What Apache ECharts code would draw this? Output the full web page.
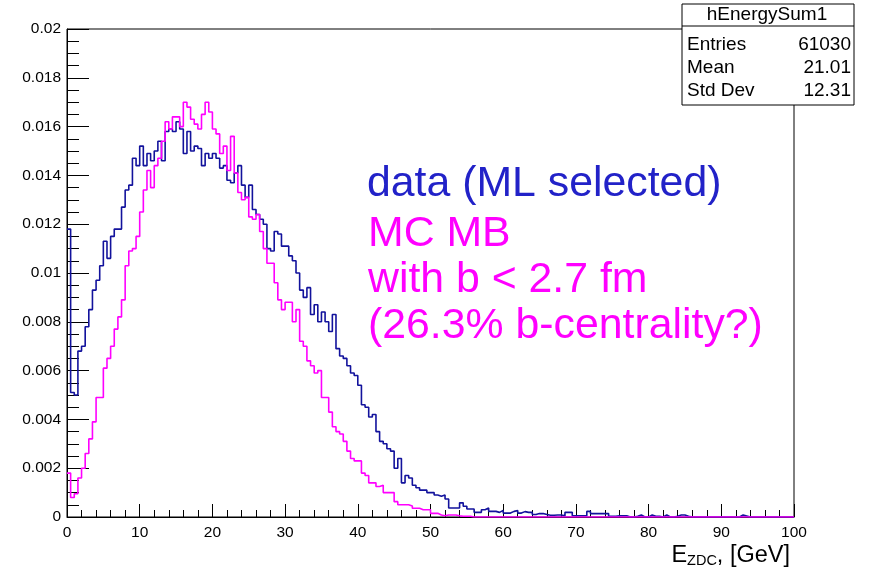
<!DOCTYPE html>
<html lang="en">
<head>
    <meta charset="UTF-8">
    <title>hEnergySum1</title>
    <script src="https://cdn.jsdelivr.net/npm/echarts@6.0.0/dist/echarts.min.js"></script>
    <style>
        html, body { margin: 0; padding: 0; background: #fff; }
        #main { width: 869px; height: 571px; }
    </style>
</head>
<body>
    <div id="main"></div>

    <script type="text/javascript">
        // histogram: 200 bins of 0.5 GeV from 0 to 100
        const binWidth = 0.5;

        // data (ML selected), normalised bin contents
        const dataSelected = [
            0.0118, 0.0051, 0.0050, 0.0068, 0.0070, 0.0078, 0.0085, 0.0093, 0.0097, 0.0103,
            0.0113, 0.0106, 0.0115, 0.0118, 0.0118, 0.0127, 0.0134, 0.0136, 0.0147, 0.0144,
            0.0152, 0.0144, 0.0149, 0.0146, 0.0150, 0.0154, 0.0146, 0.0158, 0.0159, 0.0158,
            0.0162, 0.0159, 0.0149, 0.0158, 0.0150, 0.0152, 0.0151, 0.0144, 0.0149, 0.0147,
            0.0149, 0.0147, 0.0143, 0.0144, 0.0138, 0.0137, 0.0141, 0.0144, 0.0136, 0.0131,
            0.0136, 0.0126, 0.0124, 0.0122, 0.0120, 0.0110, 0.0109, 0.0117, 0.0116, 0.0111,
            0.0111, 0.0107, 0.0105, 0.0100, 0.0093, 0.0090, 0.0094, 0.0083, 0.0087, 0.0080,
            0.0084, 0.0080, 0.0076, 0.0083, 0.0069, 0.0066, 0.0065, 0.0062, 0.0059, 0.0058,
            0.0054, 0.0046, 0.0045, 0.0041, 0.0042, 0.0035, 0.0031, 0.0030, 0.0028, 0.0027,
            0.0020, 0.0024, 0.0014, 0.0017, 0.0016, 0.0013, 0.0012, 0.0011, 0.0011, 0.0010,
            0.0010, 0.0009, 0.00085, 0.0009, 0.00074, 0.00037, 0.00037, 0.00037, 0.00058, 0.00044,
            0.00033, 0.00033, 0.00019, 0.00019, 0.0003, 0.00037, 0.00023, 0.00023, 0.00019, 0.00027,
            0.00016, 0.00016, 0.00023, 0.00027, 0.00016, 0.00022, 0.00019, 0.00019, 0.0001, 0.00014,
            0.00014, 0.0001, 0.00007, 0.00007, 0.00008, 0.00008, 0.00005, 0.00019, 0.00019, 0.00005,
            0.00005, 0.00005, 0.00005, 0.00023, 0.00014, 0.00014, 0.00014, 0.00014, 0.00014, 0.00003,
            0.00003, 0.00005, 0.00005, 0.00005, 0, 0, 0.00003, 0.00008, 0, 0,
            0.00008, 0.00003, 0.00003, 0, 0.00008, 0, 0, 0.00003, 0.00008, 0.00008,
            0.00003, 0, 0, 0, 0, 0, 0, 0, 0, 0,
            0, 0, 0, 0, 0, 0.00008, 0.00004, 0, 0, 0,
            0, 0, 0, 0, 0, 0, 0, 0, 0, 0
        ];

        // MC MB with b < 2.7 fm
        const mcMB = [
            0.0018, 0.0008, 0.00095, 0.0016, 0.0020, 0.0026, 0.0032, 0.0039, 0.0049, 0.0049,
            0.0061, 0.0065, 0.0070, 0.0077, 0.0082, 0.0089, 0.0103, 0.0109, 0.0110, 0.0115,
            0.0125, 0.0134, 0.0142, 0.0135, 0.0144, 0.0147, 0.0154, 0.0162, 0.0159, 0.0164,
            0.0164, 0.0160, 0.0170, 0.0168, 0.0163, 0.0161, 0.0159, 0.0165, 0.0170, 0.0166,
            0.0159, 0.0157, 0.0149, 0.0152, 0.0142, 0.0156, 0.0141, 0.0133, 0.0130, 0.0131,
            0.0123, 0.0122, 0.0124, 0.0117, 0.0110, 0.0104, 0.0104, 0.0096, 0.0089, 0.0085,
            0.0088, 0.0088, 0.0080, 0.0085, 0.0072, 0.0070, 0.0064, 0.0062, 0.0059, 0.0060,
            0.0049, 0.0049, 0.0043, 0.0037, 0.0035, 0.0034, 0.0031, 0.0027, 0.0024, 0.0023,
            0.0023, 0.0018, 0.0017, 0.0014, 0.0014, 0.00125, 0.0013, 0.0010, 0.0010, 0.0010,
            0.00063, 0.0005, 0.0005, 0.0005, 0.00045, 0.00036, 0.00036, 0.0003, 0.0003, 0.0003,
            0.00015, 0.00015, 0.00008, 0.00005, 0.00008, 0.00008, 0.00008, 0.00005, 0.00003, 0.00003,
            0.00003, 0, 0, 0, 0, 0, 0, 0, 0, 0,
            0, 0, 0, 0, 0, 0, 0, 0, 0, 0,
            0, 0, 0, 0, 0, 0, 0, 0, 0, 0,
            0, 0, 0, 0, 0, 0, 0, 0, 0, 0,
            0, 0, 0, 0, 0, 0, 0, 0, 0, 0,
            0, 0, 0, 0, 0, 0, 0, 0, 0, 0,
            0, 0, 0, 0, 0, 0, 0, 0, 0, 0,
            0, 0, 0, 0, 0, 0, 0, 0, 0, 0,
            0, 0, 0, 0, 0, 0, 0, 0, 0, 0
        ];

        const yTickLabels = ['0', '0.002', '0.004', '0.006', '0.008', '0.01',
            '0.012', '0.014', '0.016', '0.018', '0.02'];

        const statsRows = [['Entries', '61030'], ['Mean', '21.01'], ['Std Dev', '12.31']];
        const noteLines = ['MC MB', 'with b < 2.7 fm', '(26.3% b-centrality?)'];

        // step outline: one point per bin low edge, plus the closing edge
        function toSteps(values) {
            const pts = values.map((v, i) => [i * binWidth, v]);
            pts.push([values.length * binWidth, values[values.length - 1]]);
            return pts;
        }

        const font = 'Liberation Sans';
        const blueLine = '#12129c';
        const blueText = '#2222c8';
        const magenta = '#ff00ff';

        let myChart = echarts.init(document.getElementById('main'));

        const graphics = [];
        // stats box
        graphics.push({
            type: 'rect', z: 100,
            shape: { x: 682, y: 4, width: 172, height: 101 },
            style: { fill: '#fff', stroke: '#000', lineWidth: 1 }
        });
        graphics.push({
            type: 'line', z: 101,
            shape: { x1: 682, y1: 26, x2: 854, y2: 26 },
            style: { stroke: '#000', lineWidth: 1 }
        });
        graphics.push({
            type: 'text', z: 101, x: 767, y: 15,
            style: { text: 'hEnergySum1', font: '19px ' + font, fill: '#000', textAlign: 'center', textVerticalAlign: 'middle' }
        });
        statsRows.forEach((row, i) => {
            const y = 45 + i * 23;
            graphics.push({
                type: 'text', z: 101, x: 687, y: y,
                style: { text: row[0], font: '19px ' + font, fill: '#000', textAlign: 'left', textVerticalAlign: 'middle' }
            });
            graphics.push({
                type: 'text', z: 101, x: 851, y: y,
                style: { text: row[1], font: '19px ' + font, fill: '#000', textAlign: 'right', textVerticalAlign: 'middle' }
            });
        });
        // notes
        graphics.push({
            type: 'text', z: 50, x: 367, y: 184,
            style: { text: 'data (ML selected)', font: '42.8px ' + font, fill: blueText, textAlign: 'left', textVerticalAlign: 'middle' }
        });
        noteLines.forEach((t, i) => {
            graphics.push({
                type: 'text', z: 50, x: 368, y: 234 + i * 46,
                style: { text: t, font: '42.8px ' + font, fill: magenta, textAlign: 'left', textVerticalAlign: 'middle' }
            });
        });
        // x axis title with subscript
        graphics.push({
            type: 'text', z: 50, x: 790, y: 555,
            style: {
                text: '{m|E}{s|ZDC}{m|, [GeV]}',
                textAlign: 'right', textVerticalAlign: 'middle',
                rich: {
                    m: { fontFamily: font, fontSize: 23.5, lineHeight: 26, color: '#000', verticalAlign: 'bottom' },
                    s: { fontFamily: font, fontSize: 14.5, lineHeight: 11, color: '#000', verticalAlign: 'bottom' }
                }
            }
        });

        let options = {
            animation: false,
            backgroundColor: '#fff',
            grid: {
                left: 67, right: 75, top: 29, bottom: 54,
                show: true, borderColor: '#000', borderWidth: 1, backgroundColor: 'transparent'
            },
            xAxis: {
                type: 'value', min: 0, max: 100, interval: 10,
                axisLine: { show: true, onZero: false, lineStyle: { color: '#000', width: 1 } },
                axisTick: { show: true, inside: true, length: 13, lineStyle: { color: '#000' } },
                minorTick: { show: true, splitNumber: 5, length: 7, lineStyle: { color: '#000' } },
                splitLine: { show: false },
                axisLabel: { color: '#000', fontFamily: font, fontSize: 15.5, margin: 8 }
            },
            yAxis: {
                type: 'value', min: 0, max: 0.02, interval: 0.002,
                axisLine: { show: true, lineStyle: { color: '#000', width: 1 } },
                axisTick: { show: true, inside: true, length: 22, lineStyle: { color: '#000' } },
                minorTick: { show: true, splitNumber: 4, length: 12, lineStyle: { color: '#000' } },
                splitLine: { show: false },
                axisLabel: {
                    color: '#000', fontFamily: font, fontSize: 15.5, margin: 6,
                    formatter: (v) => yTickLabels[Math.round(v / 0.002)]
                }
            },
            series: [
                {
                    name: 'data (ML selected)', type: 'line', step: 'end',
                    data: toSteps(dataSelected), symbol: 'none', z: 3,
                    lineStyle: { color: blueLine, width: 1.6 }
                },
                {
                    name: 'MC MB', type: 'line', step: 'end',
                    data: toSteps(mcMB), symbol: 'none', z: 4,
                    lineStyle: { color: magenta, width: 1.6 }
                }
            ],
            graphic: graphics
        };

        myChart.setOption(options);
    </script>
</body>
</html>
